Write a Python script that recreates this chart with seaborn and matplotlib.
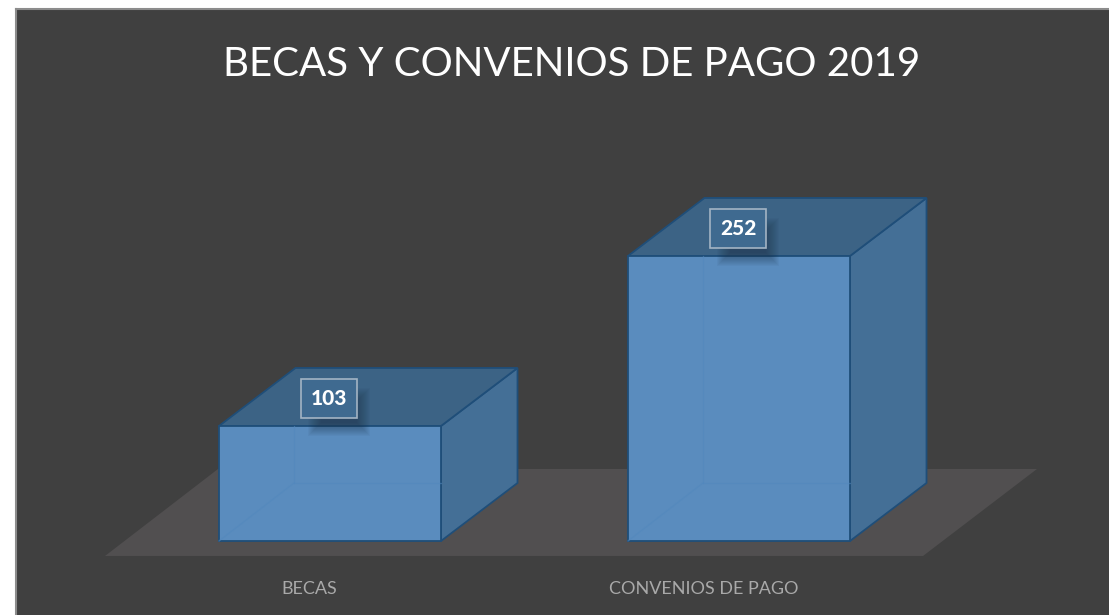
import matplotlib
matplotlib.use("Agg")

import matplotlib.pyplot as plt
import pandas as pd
import seaborn as sns
from matplotlib.patches import Polygon, Rectangle

categorias = ["BECAS", "CONVENIOS DE PAGO"]
valores = [103, 252]
titulo = "BECAS Y CONVENIOS DE PAGO 2019"

PANEL = "#404040"
FLOOR = "#514f50"
FRONT = "#5a8cbe"
TOP = "#3c6385"
SIDE = "#446f96"
EDGE = "#1f4e79"
INNER = "#5288bd"

# escala de la figura: pixeles por unidad en cada eje
PX_X = 409.0
PX_Y = 1.141
DX = 76.5 / PX_X
DY = 58.0 / PX_Y
BASE = 2.2

sns.set_theme(style="dark")
plt.rcParams["font.family"] = ["Lato", "DejaVu Sans"]

fig = plt.figure(figsize=(11.09, 6.15), dpi=100, facecolor="white")
ax = fig.add_axes([16 / 1109, 0, 1093 / 1109, 606 / 615])
ax.set_facecolor(PANEL)

df = pd.DataFrame({"categoria": categorias, "valor": valores})
sns.barplot(
    data=df,
    x="categoria",
    y="valor",
    width=222 / PX_X,
    color=FRONT,
    saturation=1,
    edgecolor=EDGE,
    linewidth=1.3,
    zorder=4,
    ax=ax,
)

ax.set_xlim(-314 / PX_X, 779 / PX_X)
ax.set_ylim(-71.5 / PX_Y, 534.5 / PX_Y)
ax.set_xlabel("")
ax.set_ylabel("")
ax.set_yticks([])
ax.grid(False)

# suelo
left = ax.patches[0].get_x()
right = ax.patches[1].get_x() + ax.patches[1].get_width()
floor_lo = BASE - 15 / PX_Y
floor_hi = floor_lo + 87 / PX_Y
ax.add_patch(Polygon(
    [(left - 114 / PX_X, floor_lo), (right + 73 / PX_X, floor_lo),
     (right + 187 / PX_X, floor_hi), (left - 1 / PX_X, floor_hi)],
    closed=True, facecolor=FLOOR, edgecolor="none", zorder=1,
))

for bar, valor in zip(list(ax.patches[:2]), valores):
    bar.set_y(BASE)
    bar.set_height(valor - BASE)
    x0 = bar.get_x()
    x1 = x0 + bar.get_width()
    cx = (x0 + x1) / 2

    ax.add_patch(Polygon(
        [(x1, BASE), (x1 + DX, BASE + DY), (x1 + DX, valor + DY), (x1, valor)],
        closed=True, facecolor=SIDE, edgecolor=EDGE, linewidth=1.3, zorder=3,
    ))
    ax.add_patch(Polygon(
        [(x0, valor), (x1, valor), (x1 + DX, valor + DY), (x0 + DX, valor + DY)],
        closed=True, facecolor=TOP, edgecolor=EDGE, linewidth=1.3, zorder=3,
    ))

    # aristas traseras que se ven a traves de la cara frontal
    back_x = x0 + 75 / PX_X
    ax.plot([back_x, back_x], [BASE + DY, valor], color=INNER, lw=1.0, alpha=0.55, zorder=5)
    ax.plot([back_x, x1], [BASE + DY, BASE + DY], color=INNER, lw=1.0, alpha=0.55, zorder=5)
    ax.plot([x0, back_x], [BASE, BASE + DY], color=INNER, lw=1.0, alpha=0.55, zorder=5)

    # sombra difusa de la etiqueta
    sx0 = cx - 8 / PX_X
    sx1 = cx + 26 / PX_X
    sy0 = valor + 4 / PX_Y
    sy1 = valor + 24 / PX_Y
    for pad in range(14, 0, -1):
        ax.add_patch(Rectangle(
            (sx0 - pad / PX_X, sy0 - pad / PX_Y),
            sx1 - sx0 + 2 * pad / PX_X,
            sy1 - sy0 + 2 * pad / PX_Y,
            facecolor="#1c2f42", edgecolor="none", alpha=0.045, zorder=6,
        ))

    ax.text(
        cx - 1 / PX_X, valor + 27.5 / PX_Y, str(valor),
        ha="center", va="center", color="white", fontsize=15, fontweight="black",
        zorder=8,
        bbox=dict(boxstyle="square,pad=0.47", facecolor="#3f6a90", edgecolor="#a3b4c4", linewidth=1.2),
    )

ax.set_xticks([(309.5 - 330) / PX_X, (703.5 - 330) / PX_X])
ax.set_xticklabels(categorias)
ax.tick_params(axis="x", length=0, pad=-24.5, labelsize=13, labelcolor="#a9a9a9")

ax.text(
    (572 - 330) / PX_X, (543.5 - 64) / PX_Y, titulo,
    ha="center", va="center", color="white", fontsize=29,
)

for side, spine in ax.spines.items():
    spine.set_visible(side in ("left", "top"))
    spine.set_color("#8c8c8c")
    spine.set_linewidth(1.5)

fig.savefig("out.png", dpi=100, facecolor=fig.get_facecolor())
plt.close(fig)
